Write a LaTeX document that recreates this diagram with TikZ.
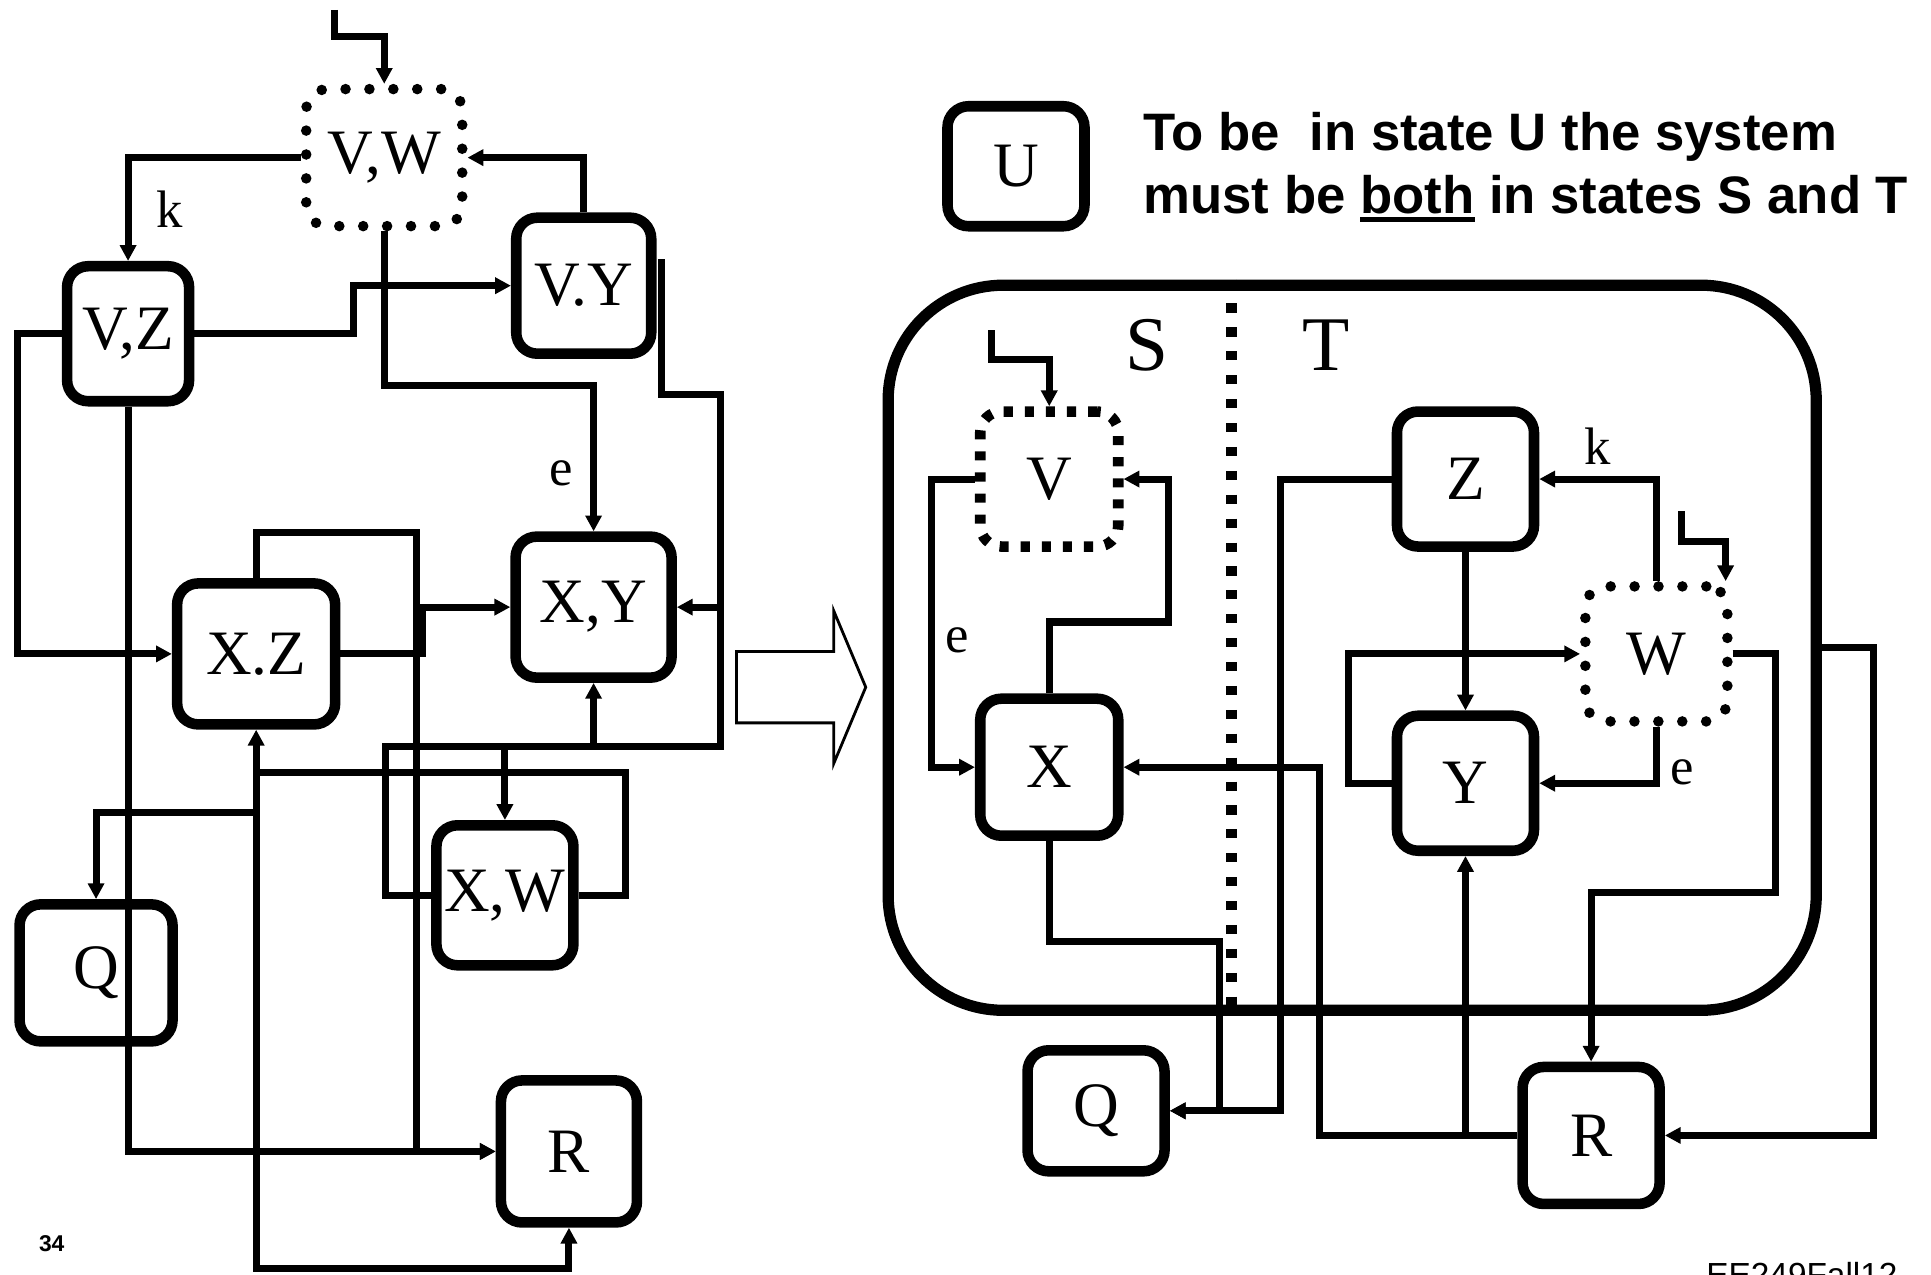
\documentclass[tikz,border=0pt]{standalone}
\usepackage{fontspec}
\setmainfont{Liberation Serif}
\setsansfont{Liberation Sans}
\usetikzlibrary{arrows.meta,shapes}
\tikzstyle{state}=[draw, fill=white, line width=3pt, rounded corners=6pt, inner sep=0pt, font=\fontsize{18}{18}\selectfont]
\tikzstyle{dotstate}=[state, line cap=round, dash pattern=on 0pt off 6.8pt]
\tikzstyle{dashstate}=[state, dash pattern=on 2.6pt off 3.4pt]
\tikzstyle{edge}=[draw, line width=2pt, -{Triangle[length=4.5pt,width=4.5pt]}]
\tikzstyle{wire}=[draw, line width=2pt]
\tikzstyle{lbl}=[font=\fontsize{15}{15}\selectfont, inner sep=1pt]
\tikzstyle{part}=[font=\fontsize{22}{22}\selectfont]
\tikzstyle{note}=[anchor=base west, inner sep=0pt, font=\sffamily\bfseries\fontsize{15}{18}\selectfont]
\newcommand{\boldul}[1]{\setbox0=\hbox{#1}\rlap{\rule[-2.6pt]{\wd0}{1.4pt}}\box0\relax}

\begin{document}
\begin{tikzpicture}[x=0.012315cm, y=-0.012315cm]

    \fill[white] (0,0) rectangle (1568,1035);
    \useasboundingbox (0,0) rectangle (1568,1035);

    % flat machine
    \node[dotstate, minimum width=1.56cm, minimum height=1.37cm] (VW) at (312,128) {V,W};
    \foreach \x/\y/\name/\txt/\w/\h in {104/271/VZ/{V,Z}/1.22/1.35, 474/232/VY/{V.Y}/1.35/1.36,
        208/531/XZ/{X.Z}/1.58/1.41, 482/493/XY/{X,Y}/1.56/1.41, 410/727/XW/{X,W}/1.37/1.40,
        78/790/Q1/Q/1.53/1.37, 462/935/R1/R/1.36/1.42}
        \node[state, minimum width=\w cm, minimum height=\h cm] (\name) at (\x,\y) {\txt};

    \coordinate (inVW) at (272,8);
    \coordinate (xwsplit) at (XZ.south |- 0,627);
    \coordinate (vyhook) at (537,210);

    \draw[edge] (inVW) -- ++(0,22) -| (VW.north);
    \draw[edge] (VW.west) -| (VZ.north) node[lbl, pos=0.75, right=6pt] {k};
    \draw[edge] (VY.north) |- (VW.east);
    \draw[edge] (VW.south) -- (VW.south |- 0,313) -| (XY.north) node[lbl, pos=0.8, left=4pt] {e};
    \draw[edge] (VZ.east) -- ++(129,0) |- (VY.west);
    \draw[edge] (VZ.west) -- ++(-36,0) |- (XZ.west);
    \draw[edge] (VZ.south) |- (R1.west);
    \draw[edge] (XZ.north) |- ++(130,-37) |- (R1.west);
    \draw[edge] (XZ.east) -- ++(67,0) |- (XY.west);
    \draw[wire] (XW.west) -- ++(-37,0) |- (585,606) |- (vyhook |- 0,320) -- (vyhook);
    \draw[edge] (XY.south |- 0,606) -- (XY.south);
    \draw[edge] (XW.north |- 0,606) -- (XW.north);
    \draw[edge] (XY.east -| 585,0) -- (XY.east);
    \draw[wire] (XW.east) -- ++(38,0) |- (xwsplit);
    \draw[edge] (xwsplit) -- (XZ.south);
    \draw[edge] (xwsplit) -- ++(0,33) -| (Q1.north);
    \draw[edge] (xwsplit) -- ++(0,403) -| (R1.south);

    \draw[line width=0.8pt, fill=white] (598,529) -- (677,529) -- (677,496) -- (703,558)
        -- (677,620) -- (677,587) -- (598,587) -- cycle;

    % product machine
    \node[state, minimum width=1.37cm, minimum height=1.20cm] (U) at (825,135) {U};
    \node[note] (line1) at (928,122) {To be\ \ in state U the system};
    \node[note] (line2) at (928,173) {must be \boldul{both} in states S and T};

    \node[draw, line width=3.2pt, rounded corners=1.15cm, minimum width=9.28cm, minimum height=7.25cm] (Ubox) at (1098,526) {};
    \draw[line width=3pt, dash pattern=on 2.6pt off 4.2pt] (Ubox.north -| 1000,0) -- (Ubox.south -| 1000,0);
    \node[part] (S) at (931,280) {S};
    \node[part] (T) at (1077,280) {T};

    \node[dashstate, minimum width=1.38cm, minimum height=1.35cm] (V) at (852,389) {V};
    \node[dotstate, minimum width=1.42cm, minimum height=1.35cm] (W) at (1345,531) {W};
    \foreach \x/\y/\name/\w/\h in {852/623/X/1.38/1.37, 1190/389/Z/1.37/1.35, 1190/636/Y/1.37/1.35,
        890/902/Q/1.37/1.21, 1292/922/R/1.37/1.37}
        \node[state, minimum width=\w cm, minimum height=\h cm] (\name2) at (\x,\y) {\name};

    \coordinate (inV) at (805,268);
    \coordinate (inW) at (1365,415);

    \draw[edge] (inV) -- ++(0,24) -| (V.north);
    \draw[edge] (V.west) -- ++(-35,0) |- (X2.west) node[lbl, pos=0.28, right=2pt] {e};
    \draw[edge] (X2.north) |- ++(97,-58) |- (V.east);
    \draw[edge] (X2.south) |- ++(138,82) |- (Q2.east);
    \draw[edge] (Z2.west) -- ++(-90,0) |- (Q2.east);
    \draw[edge] (inW) -- ++(0,25) -| ([xshift=-2pt]W.north east);
    \draw[edge] (W.north) |- (Z2.east) node[lbl, pos=0.75, above=2pt] {k};
    \draw[edge] (Z2.south) -- (Y2.north);
    \draw[edge] (Y2.west) -- ++(-35,0) |- (W.west);
    \draw[edge] (W.south) |- (Y2.east) node[lbl, pos=0.4, right=2pt] {e};
    \draw[edge] (W.east) -- ++(35,0) |- (R2.north |- 0,725) -- (R2.north);
    \draw[edge] (R2.west) -- ++(-161,0) |- (X2.east);
    \draw[edge] (R2.west -| Y2.south) -- (Y2.south);
    \draw[edge] (Ubox.east) -- ++(42,0) |- (R2.east);

    \node[font=\sffamily\bfseries\fontsize{6.5}{7}\selectfont] (pagenum) at (42,1010) {34};
    \node[anchor=base west, inner sep=0pt, font=\sffamily\fontsize{9.5}{10}\selectfont] (footer) at (1385,1045) {EE249Fall12};

\end{tikzpicture}
\end{document}
